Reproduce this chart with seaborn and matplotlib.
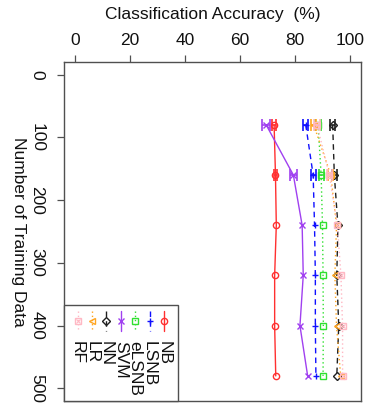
import matplotlib
matplotlib.use("Agg")
import matplotlib.pyplot as plt
from matplotlib.lines import Line2D
from matplotlib.patches import Rectangle
import numpy as np
import pandas as pd
import seaborn as sns

# ---------------- data ----------------
sizes = [80, 160, 240, 320, 400, 480]
methods = ["NB", "LSNB", "eLSNB", "SVM", "NN", "LR", "RF"]
acc_nb = [72.4, 72.9, 73.2, 72.6, 72.6, 73.0]
acc_lsnb = [83.9, 86.6, 87.1, 87.4, 87.4, 87.6]
acc_elsnb = [88.4, 89.5, 90.0, 90.2, 90.3, 90.2]
acc_svm = [69.5, 79.4, 82.6, 83.0, 81.8, 84.6]
acc_nn = [93.7, 94.3, 95.6, 95.2, 95.9, 95.2]
acc_lr = [86.8, 93.0, 95.1, 94.5, 95.1, 96.6]
acc_rf = [88.0, 92.5, 95.4, 96.7, 97.3, 97.3]
err_nb = [0.8, 0.7, 0, 0, 0, 0]
err_lsnb = [1.0, 0.9, 0, 0, 0, 0]
err_elsnb = [1.0, 0.9, 0, 0, 0, 0]
err_svm = [1.4, 1.2, 0, 0, 0, 0]
err_nn = [1.0, 0.9, 0, 0, 0, 0]
err_lr = [1.0, 0.9, 0, 0, 0, 0]
err_rf = [1.0, 0.9, 0, 0, 0, 0]
xticks = [0, 20, 40, 60, 80, 100]
yticks = [0, 100, 200, 300, 400, 500]

accs = [acc_nb, acc_lsnb, acc_elsnb, acc_svm, acc_nn, acc_lr, acc_rf]
errs = [err_nb, err_lsnb, err_elsnb, err_svm, err_nn, err_lr, err_rf]
rows = []
for m, a, e in zip(methods, accs, errs):
    for n, v, ev in zip(sizes, a, e):
        rows.append({"method": m, "n": n, "acc": v, "err": ev})
df = pd.DataFrame(rows)

styles = {
    "NB": dict(color="#FF3030", ls="-", marker="o"),
    "LSNB": dict(color="#1010FF", ls=(0, (4, 3)), marker="+"),
    "eLSNB": dict(color="#30E030", ls=(0, (1, 2)), marker="s"),
    "SVM": dict(color="#A040F0", ls="-", marker="x"),
    "NN": dict(color="#202020", ls=(0, (4, 3)), marker="D"),
    "LR": dict(color="#FFA520", ls=(0, (1, 2)), marker="<"),
    "RF": dict(color="#FFB8C4", ls=(0, (1, 2)), marker="s"),
}

# ---------------- figure ----------------
sns.set_style("white")
plt.rcParams["font.family"] = ["Liberation Sans", "DejaVu Sans"]
W, H = 367, 407
fig = plt.figure(figsize=(W / 100, H / 100), dpi=100)
L, T, R, B = 64, 62, 361, 401
ax = fig.add_axes([L / W, 1 - B / H, (R - L) / W, (B - T) / H])

for m in methods:
    st = styles[m]
    sub = df[df["method"] == m]
    fc = st["color"] if st["marker"] in ("+", "x") else "none"
    sns.lineplot(data=sub, x="acc", y="n", orient="y", estimator=None, sort=True,
                 ax=ax, color=st["color"], linestyle=st["ls"], lw=1.0,
                 marker=st["marker"], markersize=4.5, markerfacecolor=fc,
                 markeredgecolor=st["color"], markeredgewidth=1.0)
    if m == "RF":
        ax.plot(sub["acc"], sub["n"], ls="none", marker="x", markersize=3.5,
                color=st["color"], mew=0.8)
    mask = sub["err"] > 0
    ax.errorbar(sub["acc"][mask], sub["n"][mask], xerr=sub["err"][mask], fmt="none",
                ecolor=st["color"], elinewidth=1.2, capsize=4, capthick=1.2)

ax.set_xlim(-4, 104)
ax.set_ylim(520, -20)
ax.set_xticks(xticks)
ax.set_yticks(yticks)
ax.xaxis.tick_top()
ax.xaxis.set_label_position("top")
for s in ax.spines.values():
    s.set_visible(True)
    s.set_color("#505050")
    s.set_linewidth(1.0)
ax.tick_params(axis="both", which="both", length=5, width=0.9, color="#505050",
               labelsize=12.5, labelcolor="#111111")
ax.tick_params(axis="x", pad=5, top=True, bottom=False)
ax.tick_params(axis="y", pad=9, left=True, labelrotation=-90)
for lab in ax.get_yticklabels():
    lab.set_va("center")
    lab.set_ha("right")

ax.set_xlabel("Classification Accuracy  (%)", fontsize=12.5, color="#111111")
ax.xaxis.set_label_coords(0.5, (B - 15) / (B - T))
ax.xaxis.label.set_va("center")
ax.set_ylabel("Number of Training Data", fontsize=12.5, color="#111111",
              rotation=-90)
ax.yaxis.set_label_coords((18 - L) / (R - L), 0.5)
ax.yaxis.label.set_va("center")
ax.yaxis.label.set_ha("center")

# ---------------- legend (rotated, pixel coords overlay) ----------------
lax = fig.add_axes([0, 0, 1, 1], zorder=5)
lax.set_xlim(0, W)
lax.set_ylim(H, 0)
lax.axis("off")
lax.patch.set_alpha(0)
lax.add_patch(Rectangle((L, 305), 178 - L, B - 305, facecolor="white",
                        edgecolor="#505050", lw=1.0))
x0, dx = 164, -14.4
for i, m in enumerate(methods):
    st = styles[m]
    xx = x0 + i * dx
    fc = st["color"] if st["marker"] in ("+", "x") else "none"
    lax.add_line(Line2D([xx, xx], [310.5, 330.5], color=st["color"],
                        linestyle=st["ls"], lw=1.0))
    lax.add_line(Line2D([xx], [320.7], marker=st["marker"], markersize=4.5,
                        markerfacecolor=fc, markeredgecolor=st["color"], mew=1.0))
    if m == "RF":
        lax.add_line(Line2D([xx], [320.7], marker="x", markersize=3.5,
                            color=st["color"], mew=0.8))
    lax.text(xx, 341, m, rotation=-90, ha="center", va="top", fontsize=12.5,
             color="#111111")

fig.savefig("out.png", dpi=100, facecolor="white")
